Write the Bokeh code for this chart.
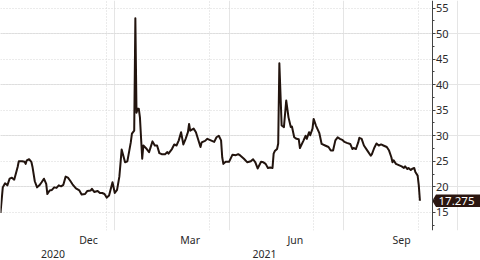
import pandas as pd
from bokeh.plotting import figure
from bokeh.models import Range1d, LinearAxis, FixedTicker, Grid
from bokeh.core.properties import value
from bokeh.embed import file_html
from bokeh.resources import INLINE

# ---- data ----
start_date = "2020-09-30"
day_offsets = [0, 2, 4, 6, 8, 10, 12, 15, 16, 19, 21, 22, 23, 25, 27, 28, 30, 32, 34, 36,
               38, 40, 41, 43, 45, 47, 49, 51, 53, 55, 57, 59, 61, 63, 66, 69, 71, 74, 76, 79,
               80, 82, 85, 87, 89, 91, 93, 95, 98, 100, 102, 104, 105, 106, 109, 111, 114, 115, 117, 118,
               119, 120, 121, 122, 123, 124, 125, 128, 130, 133, 135, 137, 139, 141, 144, 146, 147, 150, 152, 154,
               156, 158, 160, 162, 164, 165, 166, 169, 171, 175, 176, 179, 181, 184, 187, 189, 191, 193, 194, 195,
               197, 200, 203, 206, 208, 210, 213, 216, 219, 221, 223, 225, 228, 230, 232, 234, 236, 238, 239, 240,
               242, 243, 244, 246, 248, 250, 252, 254, 255, 257, 259, 261, 262, 265, 267, 268, 270, 271, 273, 274,
               276, 279, 281, 284, 287, 289, 291, 293, 295, 297, 299, 301, 303, 306, 308, 309, 311, 313, 314, 316,
               318, 321, 324, 325, 327, 329, 331, 333, 335, 338, 340, 342, 343, 344, 346, 349, 351, 353, 354, 356,
               357, 359, 360, 362, 363, 365, 366, 367]
values = [14.9, 19.9, 20.7, 20.3, 21.6, 21.8, 21.4, 23.9, 25.0, 25.0, 24.9, 24.5, 25.2, 25.4, 24.9, 23.9, 21.1, 19.9, 20.3, 20.9,
          21.6, 20.6, 18.6, 19.3, 19.4, 19.9, 19.8, 20.3, 20.1, 20.4, 22.0, 21.8, 21.2, 20.5, 19.7, 19.3, 18.5, 18.6, 19.2, 19.3,
          19.6, 19.0, 19.2, 18.8, 18.8, 18.6, 17.9, 18.3, 20.9, 18.8, 19.4, 22.0, 24.6, 27.3, 24.8, 25.0, 28.7, 30.4, 31.0, 53.0,
          34.5, 35.3, 35.3, 33.6, 29.5, 25.5, 28.1, 27.4, 26.8, 28.9, 28.1, 28.1, 26.6, 26.4, 26.4, 26.8, 26.5, 27.4, 28.3, 28.1,
          29.1, 30.7, 28.3, 29.4, 30.7, 32.3, 31.0, 31.4, 30.7, 27.8, 28.7, 29.0, 29.4, 29.1, 28.8, 29.7, 30.0, 29.1, 25.8, 24.5,
          24.9, 24.9, 26.3, 26.2, 26.4, 26.1, 25.5, 24.8, 25.0, 25.4, 24.8, 23.6, 24.9, 24.8, 24.5, 23.7, 23.8, 23.7, 26.5, 27.0,
          27.4, 28.5, 44.2, 32.0, 31.7, 36.9, 33.6, 31.7, 31.8, 29.7, 29.4, 29.3, 27.6, 29.0, 30.0, 29.4, 30.7, 30.1, 31.4, 33.3,
          32.0, 30.5, 28.4, 28.1, 27.8, 27.1, 27.1, 29.1, 29.7, 29.4, 29.2, 28.8, 28.6, 28.4, 27.4, 27.6, 27.4, 28.7, 29.6, 29.4,
          28.1, 27.1, 26.1, 26.4, 27.6, 28.5, 28.1, 28.3, 28.1, 27.8, 27.1, 25.8, 24.8, 25.2, 24.5, 24.2, 24.0, 23.7, 24.0, 23.5,
          23.7, 23.3, 23.5, 23.7, 22.9, 22.2, 20.3, 17.275]
last_label = "17.275"

month_tick_dates = ["2020-12-16", "2021-03-15", "2021-06-15", "2021-09-16"]
month_labels = ["Dec", "Mar", "Jun", "Sep"]
year_tick_dates = ["2020-11-15", "2021-05-19"]
year_labels = ["2020", "2021"]
quarter_line_dates = ["2021-01-01", "2021-04-01", "2021-07-01", "2021-10-01"]
y_ticks = [15, 20, 25, 30, 35, 40, 45, 50, 55]

t0 = pd.Timestamp(start_date)


def day(s):
    return int((pd.Timestamp(s) - t0).days)


FONT = "Noto Sans"
TXT = "#2a2a2a"
LINE = "#22140e"
BOX = "#2b1610"
GRID = "#d6d6d6"

ppd = 432 / 378            # pixels per day
axis_x = 378               # where the value axis sits (data units, days)
x_end = 480 / ppd          # frame spans the whole width
p = figure(width=480, height=260, output_backend="svg", toolbar_location=None,
           x_axis_location=None, y_axis_location=None,
           x_range=Range1d(0, x_end), y_range=Range1d(11.46, 56.47),
           min_border_left=0, min_border_top=0, min_border_right=0, min_border_bottom=30)
p.outline_line_color = None
p.background_fill_color = "white"
p.border_fill_color = "white"

# grids
vgrid = Grid(dimension=0, ticker=FixedTicker(ticks=[day(s) for s in quarter_line_dates]),
             grid_line_color=GRID, grid_line_dash="1 2", grid_line_width=1)
hgrid = Grid(dimension=1, ticker=FixedTicker(ticks=y_ticks),
             grid_line_color=GRID, grid_line_dash="1 2", grid_line_width=1)
try:
    hgrid.cross_bounds = (0, axis_x)
except Exception:
    pass
p.add_layout(vgrid)
p.add_layout(hgrid)

# series
p.line([int(d) for d in day_offsets], values, line_color=LINE, line_width=2, line_join="round")

# value axis: placed at a fixed location, ticks and labels to its right
ry = LinearAxis(ticker=FixedTicker(ticks=y_ticks, minor_ticks=[t - 2.5 for t in y_ticks]),
                fixed_location=axis_x,
                axis_line_color="#444444", major_tick_line_color="#444444", minor_tick_line_color="#444444",
                major_tick_out=0, major_tick_in=3, minor_tick_out=0, minor_tick_in=2,
                major_label_standoff=-16, major_label_text_font=FONT,
                major_label_text_font_size="11px", major_label_text_color=TXT)
p.add_layout(ry, "left")

# month axis
mt = [day(s) for s in month_tick_dates]
mx = LinearAxis(ticker=FixedTicker(ticks=mt),
                major_label_overrides={t: l for t, l in zip(mt, month_labels)},
                axis_line_color=None, major_tick_line_color=None, minor_tick_line_color=None,
                major_tick_out=0, major_tick_in=0, minor_tick_out=0, minor_tick_in=0,
                major_label_standoff=2, major_label_text_font=FONT,
                major_label_text_font_size="10.5px", major_label_text_color=TXT)
p.add_layout(mx, "below")

yt = [day(s) for s in year_tick_dates]
yx = LinearAxis(ticker=FixedTicker(ticks=yt),
                major_label_overrides={t: l for t, l in zip(yt, year_labels)},
                axis_line_color=None, major_tick_line_color=None, minor_tick_line_color=None,
                major_tick_out=0, major_tick_in=0, minor_tick_out=0, minor_tick_in=0,
                major_label_standoff=0, major_label_text_font=FONT,
                major_label_text_font_size="10.5px", major_label_text_color=TXT)
p.add_layout(yx, "below")

# last value tag
last = values[-1]
hh = 6.2 / 5.11
tx0 = axis_x - 0.3 / ppd
tx1 = axis_x + 3.5 / ppd
tx2 = x_end + 40
p.patch([tx0, tx1, tx2, tx2, tx1], [last, last + hh, last + hh, last - hh, last - hh],
        fill_color=BOX, line_color=None)
p.text([axis_x + 6 / ppd], [last], text=[last_label], text_color="white",
       text_font=value(FONT), text_font_size="11.5px", text_baseline="middle", text_align="left")

open("out.html", "w").write(file_html(p, INLINE))
